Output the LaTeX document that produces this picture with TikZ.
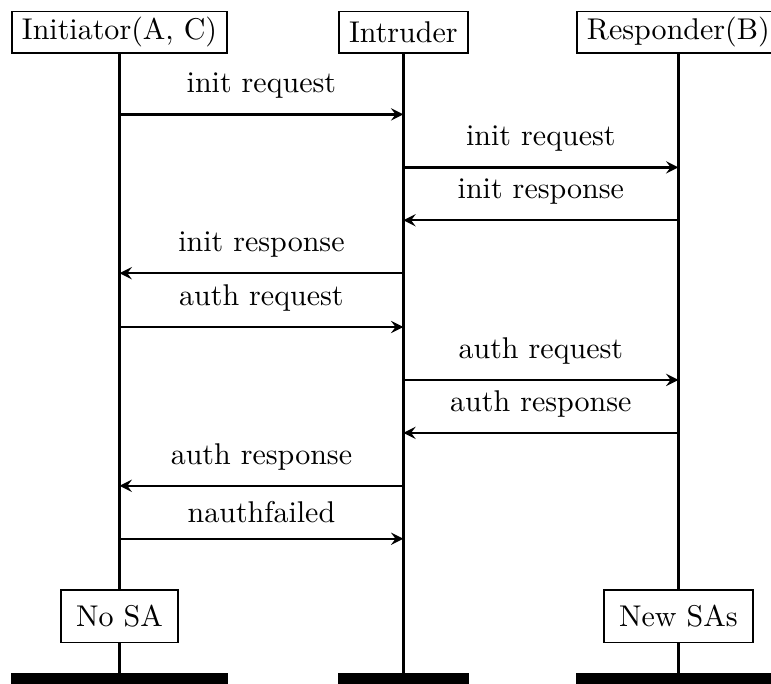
\documentclass[tikz,border=0pt]{standalone}
\usepackage{tikz}
\usetikzlibrary{positioning, arrows}
\tikzstyle{actor} = [rectangle, draw=black, semithick, minimum height=13.9pt, inner xsep=3.33pt, inner ysep=1pt]
\tikzstyle{state} = [rectangle, draw=black, semithick, fill=white, inner sep=5pt]
\tikzstyle{lifeline} = [line width=1pt]
\tikzstyle{bar} = [line width=4pt]
\tikzstyle{arrow} = [thick,->,>=stealth]
\tikzstyle{msg} = [anchor=south, yshift=1.5pt]

\begin{document}
\begin{tikzpicture}
	\useasboundingbox (0,0) rectangle (9.03,-8.0);

	\node (init) [actor] at (1.40,-0.38) {Initiator(A, C)};
	\node (intr) [actor, right=1.29cm of init] {Intruder};
	\node (resp) [actor, right=1.26cm of intr] {Responder(B)};

	\coordinate (bot) at (0,-7.95);
	\draw [lifeline] (init.south) -- (init.south |- bot);
	\draw [lifeline] (intr.south) -- (intr.south |- bot);
	\draw [lifeline] (resp.south) -- (resp.south |- bot);
	\draw [bar] (init.west |- bot) -- (init.east |- bot);
	\draw [bar] (intr.west |- bot) -- (intr.east |- bot);
	\draw [bar] (resp.west |- bot) -- (resp.east |- bot);

	\node (nosa) [state] at (init |- 0,-7.22) {No SA};
	\node (newsa) [state] at (resp |- 0,-7.22) {New SAs};

	\coordinate (m1) at (0,-1.34);
	\coordinate (m2) at (0,-1.96);
	\coordinate (m3) at (0,-2.58);
	\coordinate (m4) at (0,-3.20);
	\coordinate (m5) at (0,-3.83);
	\coordinate (m6) at (0,-4.45);
	\coordinate (m7) at (0,-5.07);
	\coordinate (m8) at (0,-5.69);
	\coordinate (m9) at (0,-6.31);

	\draw [arrow] (init |- m1) -- node[msg]{init request}(intr |- m1);
	\draw [arrow] (intr |- m2) -- node[msg]{init request}(resp |- m2);
	\draw [arrow] (resp |- m3) -- node[msg]{init response}(intr |- m3);
	\draw [arrow] (intr |- m4) -- node[msg]{init response}(init |- m4);
	\draw [arrow] (init |- m5) -- node[msg]{auth request}(intr |- m5);
	\draw [arrow] (intr |- m6) -- node[msg]{auth request}(resp |- m6);
	\draw [arrow] (resp |- m7) -- node[msg]{auth response}(intr |- m7);
	\draw [arrow] (intr |- m8) -- node[msg]{auth response}(init |- m8);
	\draw [arrow] (init |- m9) -- node[msg]{nauthfailed}(intr |- m9);
\end{tikzpicture}
\end{document}
